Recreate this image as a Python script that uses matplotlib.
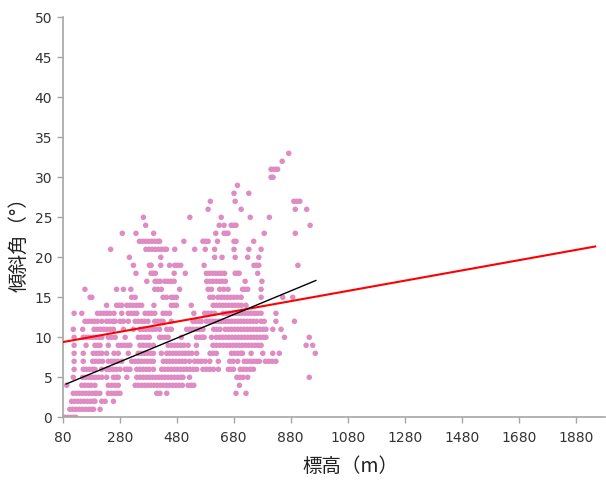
import matplotlib
matplotlib.use("Agg")
import matplotlib.pyplot as plt

plt.rcParams['font.family'] = ['DejaVu Sans', 'Noto Sans CJK JP']

# Elevation values (m) of sample points, grouped by slope angle (degrees)
slope_00 = [88, 98, 108, 118, 126]
slope_01 = [105, 116, 127, 138, 149, 160, 171, 181, 188, 211]
slope_02 = [111, 122, 133, 144, 155, 166, 177, 188, 193, 217, 229, 258]
slope_03 = [117, 128, 139, 150, 161, 172, 183, 193, 199, 210, 240, 251, 262, 272, 281, 410, 421, 445, 688, 723]
slope_04 = [94, 147, 158, 169, 180, 193, 240, 252, 264, 275, 334, 345, 356, 367, 378, 389, 400, 411, 422, 433,
            444, 455, 466, 477, 488, 500, 520, 530, 540, 700]
slope_05 = [117, 150, 161, 172, 183, 194, 205, 217, 234, 258, 268, 275, 305, 340, 351, 362, 373, 384, 395, 406,
            417, 428, 439, 450, 461, 472, 483, 494, 502, 525, 691, 702, 713, 729, 945]
slope_06 = [120, 152, 163, 174, 185, 193, 217, 234, 245, 256, 268, 281, 299, 308, 316, 340, 351, 362, 373, 384,
            398, 427, 438, 449, 460, 471, 482, 493, 504, 515, 526, 538, 550, 572, 584, 596, 609, 626, 661, 670,
            679, 703, 714, 725, 737, 749]
slope_07 = [120, 152, 185, 196, 208, 220, 240, 251, 262, 273, 287, 322, 333, 344, 355, 366, 377, 388, 398, 433,
            444, 455, 466, 477, 488, 499, 510, 525, 543, 555, 567, 580, 596, 626, 666, 678, 694, 717, 728, 739,
            750, 760, 770, 791, 803, 815, 828]
slope_08 = [120, 152, 187, 198, 208, 217, 234, 260, 275, 310, 345, 356, 367, 378, 389, 398, 426, 445, 456, 467,
            478, 489, 500, 511, 522, 533, 550, 597, 608, 619, 672, 683, 694, 705, 711, 741, 782, 817, 840, 966]
slope_09 = [120, 162, 193, 202, 211, 240, 275, 286, 297, 308, 316, 351, 362, 373, 384, 398, 450, 461, 472, 483,
            494, 505, 520, 549, 607, 619, 631, 643, 655, 666, 677, 688, 699, 710, 721, 732, 743, 754, 765, 776,
            934, 957]
slope_10 = [120, 152, 163, 174, 185, 196, 207, 217, 240, 252, 264, 299, 345, 356, 367, 378, 384, 420, 430, 440,
            450, 496, 549, 560, 570, 576, 602, 619, 630, 641, 652, 663, 674, 685, 696, 707, 718, 729, 740, 751,
            762, 773, 784, 793, 858, 945]
slope_11 = [117, 150, 190, 201, 212, 223, 234, 246, 258, 293, 328, 351, 362, 373, 384, 395, 406, 420, 445, 456,
            461, 515, 526, 537, 550, 561, 572, 610, 621, 632, 650, 661, 672, 683, 694, 705, 716, 727, 738, 749,
            760, 771, 782, 793, 817, 846]
slope_12 = [158, 169, 180, 191, 202, 217, 234, 245, 256, 264, 281, 293, 310, 334, 345, 356, 367, 379, 403, 414,
            424, 432, 461, 537, 548, 559, 566, 584, 595, 606, 617, 628, 639, 650, 661, 672, 683, 694, 705, 716,
            727, 738, 749, 760, 776, 787, 828, 893]
slope_13 = [120, 147, 202, 213, 224, 235, 246, 260, 287, 310, 320, 330, 340, 369, 380, 391, 403, 432, 443, 455,
            540, 578, 590, 601, 613, 643, 654, 665, 676, 687, 698, 709, 720, 731, 742, 753, 764, 776, 828]
slope_14 = [234, 269, 278, 287, 305, 316, 327, 338, 349, 357, 400, 461, 470, 479, 531, 608, 619, 630, 641, 652,
            663, 674, 685, 696, 707, 723]
slope_15 = [176, 182, 322, 334, 432, 444, 461, 470, 479, 596, 608, 625, 636, 647, 658, 669, 680, 693, 706, 776,
            852, 887]
slope_16 = [158, 269, 293, 319, 403, 414, 426, 490, 590, 602, 631, 645, 660, 711, 720, 729, 776]
slope_17 = [375, 404, 413, 422, 438, 449, 460, 471, 585, 596, 607, 619, 630, 640, 651, 720, 779]
slope_18 = [337, 390, 398, 405, 471, 510, 584, 595, 606, 617, 628, 638, 648, 685, 693, 699, 764]
slope_19 = [328, 384, 390, 424, 455, 473, 483, 494, 576, 751, 760, 768, 905]
slope_20 = [314, 424, 613, 639, 685, 729, 768]
slope_21 = [248, 372, 383, 394, 405, 416, 427, 437, 444, 473, 543, 580, 613, 681, 733, 776]
slope_22 = [349, 360, 371, 382, 393, 404, 414, 420, 505, 572, 581, 590, 623, 681, 688, 750]
slope_23 = [289, 337, 399, 617, 646, 653, 660, 787, 896]
slope_24 = [371, 629, 646, 671, 680, 688, 948]
slope_25 = [363, 526, 636, 738, 805]
slope_26 = [590, 706, 896, 936]
slope_27 = [598, 685, 891, 901, 912]
slope_28 = [681, 733]
slope_29 = [693]
slope_30 = [811, 818]
slope_31 = [811, 820, 827, 834]
slope_32 = [850]
slope_33 = [873]

rows = [slope_00, slope_01, slope_02, slope_03, slope_04, slope_05, slope_06, slope_07, slope_08, slope_09,
        slope_10, slope_11, slope_12, slope_13, slope_14, slope_15, slope_16, slope_17, slope_18, slope_19,
        slope_20, slope_21, slope_22, slope_23, slope_24, slope_25, slope_26, slope_27, slope_28, slope_29,
        slope_30, slope_31, slope_32, slope_33]

# Trend lines (endpoints)
red_x = [80, 1948]
red_y = [9.4, 21.35]
black_x = [92, 968]
black_y = [4.16, 17.1]

x_ticks = [80, 280, 480, 680, 880, 1080, 1280, 1480, 1680, 1880]
y_ticks = [0, 5, 10, 15, 20, 25, 30, 35, 40, 45, 50]

xs, ys = [], []
for deg, elevs in enumerate(rows):
    xs.extend(elevs)
    ys.extend([deg] * len(elevs))

fig = plt.figure(figsize=(6.06, 4.80), dpi=100)
ax = fig.add_axes([0.1035, 0.1306, 0.8955, 0.8334])

ax.scatter(xs, ys, s=16, color='#DE8CC3', edgecolors='none', zorder=2)
ax.plot(red_x, red_y, color='#FF0000', lw=1.5, zorder=3)
ax.plot(black_x, black_y, color='#000000', lw=1.0, zorder=3)

ax.set_xlim(80, 1984)
ax.set_ylim(0, 50)
ax.set_xticks(x_ticks)
ax.set_yticks(y_ticks)
ax.tick_params(axis='both', colors='#A6A6A6', labelcolor='#333333', labelsize=10, length=4, width=1)
ax.tick_params(axis='x', pad=6)
for side in ['top', 'right']:
    ax.spines[side].set_visible(False)
for side in ['left', 'bottom']:
    ax.spines[side].set_color('#A6A6A6')
    ax.spines[side].set_linewidth(1.2)

fig.text(350 / 606, 1 - 466 / 480, '標高（m）', ha='center', va='center', fontsize=14,
         family=['Noto Sans CJK JP', 'DejaVu Sans'], color='#222222')
fig.text(19 / 606, 1 - 240 / 480, '傾斜角（°）', ha='center', va='center', fontsize=14, rotation=90,
         family=['Noto Sans CJK JP', 'DejaVu Sans'], color='#222222')

fig.savefig('out.png', dpi=100)
